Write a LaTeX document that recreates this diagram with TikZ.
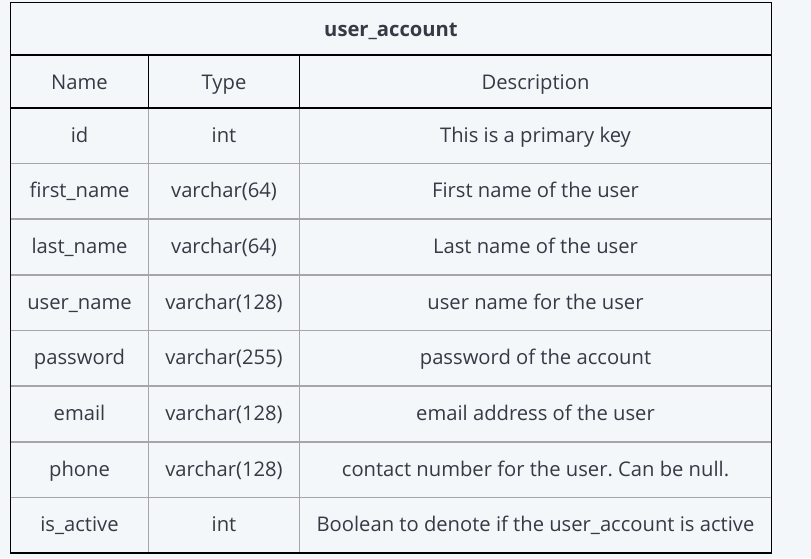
\documentclass[tikz,border=0pt]{standalone}
\usepackage{fontspec}
\setmainfont{Open Sans}
\frenchspacing
\definecolor{bg}{HTML}{F4F7F9}
\definecolor{txt}{HTML}{353A45}
\definecolor{grid}{HTML}{A6A6A6}
\begin{document}
\begin{tikzpicture}[x=1pt,y=-1pt,
  cell/.style={text=txt,font=\fontsize{20.2}{24}\selectfont,anchor=base,inner sep=0pt},
  title/.style={cell,font=\fontsize{20.2}{24}\selectfont\bfseries},
  inner/.style={draw=grid,line width=1.1pt},
  outer/.style={draw=black,line width=1.2pt}]
\fill[bg] (0,0) rectangle (811,558);
\useasboundingbox (0,0) rectangle (811,558);
% grid body
\foreach \y in {163.5,219,275,330.5,386,442,497.5}
  \draw[inner] (10.5,\y) -- (771.5,\y);
\draw[inner] (148.5,108) -- (148.5,553);
\draw[inner] (299.5,108) -- (299.5,553);
% header lines
\draw[outer] (10.5,55) -- (771.5,55);
\draw[outer] (10.5,108) -- (771.5,108);
\draw[outer] (148.5,55) -- (148.5,108);
\draw[outer] (299.5,55) -- (299.5,108);
\draw[outer] (10.5,2.5) rectangle (771.5,553);
% texts
\node[title] (t) at (391,36) {user\_account};
\node[cell] (h1) at (79.5,89) {Name};
\node[cell] (h2) at (224,89) {Type};
\node[cell] (h3) at (535.5,89) {Description};
\foreach \y/\a/\b/\c [count=\i] in {
  142/id/int/This is a primary key,
  197.5/first\_name/varchar(64)/First name of the user,
  253.5/last\_name/varchar(64)/Last name of the user,
  309/user\_name/varchar(128)/user name for the user,
  364.5/password/varchar(255)/password of the account,
  420.5/email/varchar(128)/email address of the user,
  476/phone/varchar(128)/contact number for the user. Can be null.,
  531.5/is\_active/int/Boolean to denote if the user\_account is active}
{
  \node[cell] (n\i) at (79.5,\y) {\a};
  \node[cell] (ty\i) at (224,\y) {\b};
  \node[cell] (d\i) at (535.5,\y) {\c};
}
\end{tikzpicture}
\end{document}
